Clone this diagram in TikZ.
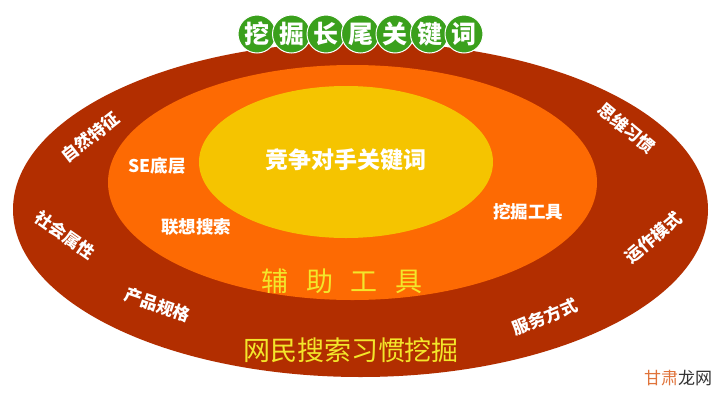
\documentclass[tikz,border=0pt]{standalone}
\usepackage{fontspec}
\setmainfont{Noto Sans CJK SC}
\definecolor{outerred}{HTML}{B22E00}
\definecolor{midorange}{HTML}{FD6A03}
\definecolor{inneryellow}{HTML}{F5C400}
\definecolor{titlegreen}{HTML}{3AA01C}
\definecolor{labelyellow}{HTML}{F3E62A}
\definecolor{wmorange}{HTML}{E0733A}
\definecolor{wmgray}{HTML}{333333}
\tikzset{
  outerlbl/.style={text=white, font=\bfseries\fontsize{17}{17}\selectfont, inner sep=0pt},
  innerlbl/.style={text=white, font=\bfseries\fontsize{17.5}{17.5}\selectfont, inner sep=0pt},
  biglbl/.style={text=labelyellow, font=\fontsize{27}{27}\selectfont, inner sep=0pt},
  titlecirc/.style={circle, fill=titlegreen, draw=white, line width=1pt, minimum size=38pt, inner sep=0pt, text=white, font=\bfseries\fontsize{25}{25}\selectfont},
}
\begin{document}
\begin{tikzpicture}[x=1pt, y=-1pt]
\useasboundingbox[fill=white] (0,0) rectangle (724,400);
% ellipses
\fill[outerred] (360.5,209.5) ellipse [x radius=347.5, y radius=167.5];
\fill[midorange] (352.5,182.5) ellipse [x radius=244.5, y radius=117.5];
\fill[inneryellow] (346,162) ellipse [x radius=147, y radius=76];
% title circles
\foreach \ch [count=\i from 0] in {挖,掘,长,尾,关,键,词} {
  \node[titlecirc] (t\i) at (257+34.5*\i,34) {\ch};
}
% outer ring labels
\node[outerlbl, rotate=38] (l1) at (90,137) {自然特征};
\node[outerlbl, rotate=-35] (l2) at (65,235) {社会属性};
\node[outerlbl, rotate=-19] (l3) at (158,305) {产品规格};
\node[outerlbl, rotate=-40] (r1) at (627,128) {思维习惯};
\node[outerlbl, rotate=40] (r2) at (653,238) {运作模式};
\node[outerlbl, rotate=22] (r3) at (545,317) {服务方式};
% inner labels
\node[innerlbl] (s1) at (157,166) {SE底层};
\node[innerlbl] (s2) at (196,227) {联想搜索};
\node[innerlbl] (s3) at (528,212) {挖掘工具};
\node[text=white, font=\bfseries\fontsize{23}{23}\selectfont, inner sep=0pt] (c) at (346,160) {竞争对手关键词};
% big yellow labels
\node[biglbl] (f) at (342,281) {辅\hspace{0.66em}助\hspace{0.66em}工\hspace{0.66em}具};
\node[biglbl] (w) at (351,350) {网民搜索习惯挖掘};
% watermark
\node[font=\fontsize{17}{17}\selectfont, inner sep=0pt] (wm) at (678,378) {\textcolor{wmorange}{甘肃}\textcolor{wmgray}{龙网}};
\end{tikzpicture}
\end{document}
